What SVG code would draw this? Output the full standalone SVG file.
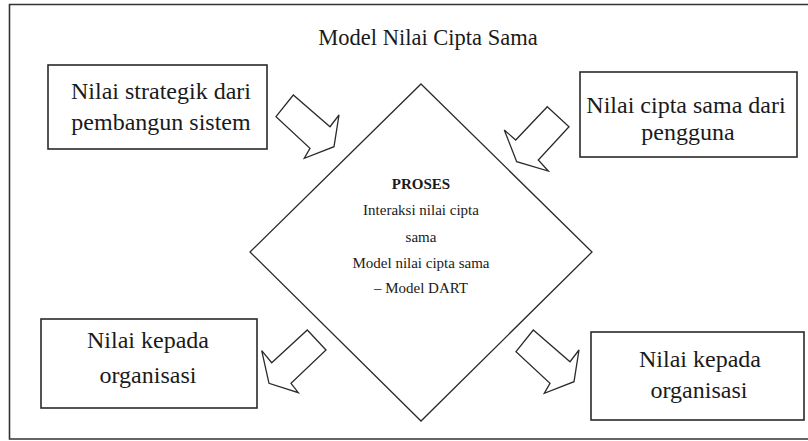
<svg xmlns="http://www.w3.org/2000/svg" width="808" height="441" viewBox="0 0 808 441">
<style>
.box{fill:#fff;stroke:#2a2a2a;stroke-width:1.6}
.arr{fill:#fff;stroke:#2a2a2a;stroke-width:1.3;stroke-linejoin:miter}
.t{font-family:"Liberation Serif","Times New Roman",serif;fill:#1a1a1a;text-anchor:middle}
.big{font-size:24px}
.sm{font-size:15px}
</style>
<rect x="0" y="0" width="808" height="441" fill="#fff"/>
<path d="M812 4.5 H9.5 V439 H812" fill="none" stroke="#333" stroke-width="1.6"/>
<text class="t" x="428" y="45" font-size="22.5">Model Nilai Cipta Sama</text>
<g id="process">
<polygon points="421,84 592,252 421,421 250,252" fill="#fff" stroke="#2a2a2a" stroke-width="1.3"/>
<text class="t sm" x="421" y="189" font-weight="bold">PROSES</text>
<text class="t sm" x="421" y="215">Interaksi nilai cipta</text>
<text class="t sm" x="421" y="242">sama</text>
<text class="t sm" x="421" y="268">Model nilai cipta sama</text>
<text class="t sm" x="421" y="293">– Model DART</text>
</g>
<g id="strategik">
<rect class="box" x="48" y="65" width="219" height="84"/>
<text class="t big" x="161" y="99">Nilai strategik dari</text>
<text class="t big" x="161" y="130">pembangun sistem</text>
</g>
<g id="pengguna">
<rect class="box" x="580" y="72" width="217" height="85"/>
<text class="t big" x="686" y="113">Nilai cipta sama dari</text>
<text class="t big" x="688" y="140">pengguna</text>
</g>
<g id="organisasi-kiri">
<rect class="box" x="41" y="319" width="216" height="89"/>
<text class="t big" x="148" y="348">Nilai kepada</text>
<text class="t big" x="148" y="383">organisasi</text>
</g>
<g id="organisasi-kanan">
<rect class="box" x="591" y="332" width="213" height="88"/>
<text class="t big" x="700" y="367">Nilai kepada</text>
<text class="t big" x="699" y="398">organisasi</text>
</g>
<g id="connectors">
<polygon class="arr" points="276,116.7 293.3,95 330,126.7 339,115 334,146.7 304.3,158.3 310,148.3"/>
<polygon class="arr" points="547.3,106.7 569,126.7 538.3,160 548.3,171 516.7,161.7 504.3,130 515.7,140"/>
<polygon class="arr" points="307.3,330 326,350 291,383.3 298.3,392.7 269,383.3 261.7,350.7 271.7,362.7"/>
<polygon class="arr" points="516,351.7 533.3,330 570,361.7 579,350 574,381.7 544.3,393.3 550,383.3"/>
</g>
</svg>
